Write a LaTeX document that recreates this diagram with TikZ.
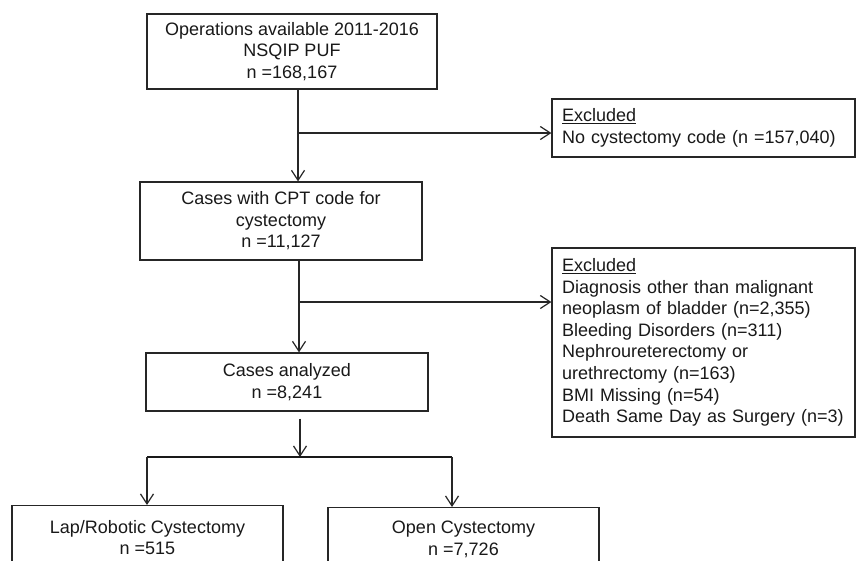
\documentclass[tikz,border=0pt]{standalone}
\usepackage{fontspec}
\setmainfont{Liberation Sans}
\usetikzlibrary{arrows.meta,calc}
\begin{document}
\begin{tikzpicture}[x=1pt,y=-1pt,
  font=\fontsize{18}{21.6}\selectfont,
  box/.style={draw=black!85, line width=1.2pt, rectangle, inner sep=0pt, align=center, text=black!90},
  exbox/.style={draw=black!85, line width=1.2pt, rectangle, inner xsep=10pt, inner ysep=0pt, text width=283pt, align=left, text=black!90},
  arr/.style={draw=black!85, line width=1.2pt, -{Straight Barb[length=10pt,width=13pt,line width=1.2pt]}},
  ln/.style={draw=black!85, line width=1.2pt}]
\useasboundingbox (0,0) rectangle (866,560);
\fill[white] (0,0) rectangle (866,560);
\clip (0,0) rectangle (866,560);

\node[box, minimum width=290pt, minimum height=75pt] (b1) at (292,51.5)
  {Operations available 2011-2016\\NSQIP PUF\\n =168,167};
\node[box, minimum width=282pt, minimum height=78pt] (b2) at (281,221)
  {Cases with CPT code for\\cystectomy\\n =11,127};
\node[box, minimum width=282pt, minimum height=58pt] (b3) at (287,382)
  {Cases analyzed\\n =8,241};
\node[exbox, minimum height=58pt] (e1) at (703.5,128)
  {\underline{Excluded}\\[1pt]No cystectomy code (n =157,040)};
\node[exbox, minimum height=189pt] (e2) at (703.5,342.5)
  {\underline{Excluded}\\Diagnosis other than malignant\\neoplasm of bladder (n=2,355)\\Bleeding Disorders (n=311)\\Nephroureterectomy or\\urethrectomy (n=163)\\BMI Missing (n=54)\\Death Same Day as Surgery (n=3)};
\node[box, minimum width=271pt, minimum height=64pt, anchor=north] (bL) at (147.5,505)
  {Lap/Robotic Cystectomy\\n =515};
\node[box, minimum width=271pt, minimum height=64pt, anchor=north] (bR) at (463.5,507)
  {Open Cystectomy\\n =7,726};

% main flow
\coordinate (c1) at (298,0);
\coordinate (c2) at (299,0);
\coordinate (c3) at (300,0);
\coordinate (a1) at (0,133);
\coordinate (a2) at (0,302);
\coordinate (sp) at (0,457);
\coordinate (sL) at (147,0);
\coordinate (sR) at (452,0);

\draw[arr] (b1.south -| c1) -- (b2.north -| c1);
\draw[arr] (c1 |- a1) -- (e1.west |- a1);
\draw[arr] (b2.south -| c2) -- (b3.north -| c2);
\draw[arr] (c2 |- a2) -- (e2.west |- a2);
\draw[arr] ($(b3.south -| c3)+(0,7)$) -- (c3 |- sp);
\draw[draw=black!90, line width=2pt] (sL |- sp) -- (sR |- sp);
\draw[arr] (sL |- sp) -- (bL.north -| sL);
\draw[arr] (sR |- sp) -- (bR.north -| sR);
\end{tikzpicture}
\end{document}
